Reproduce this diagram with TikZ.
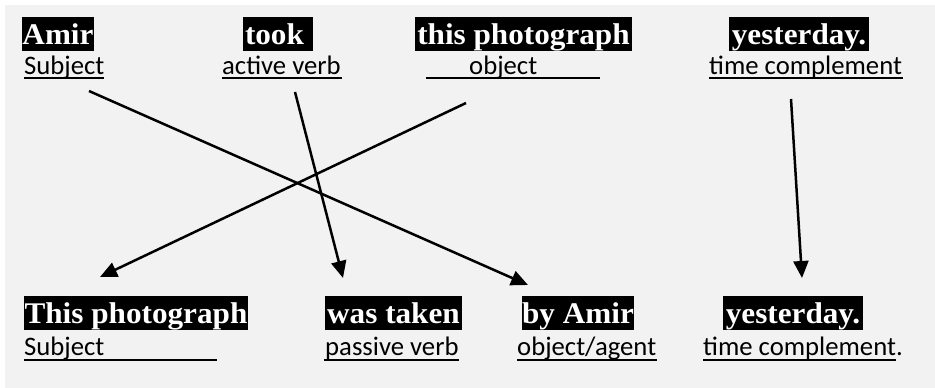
\documentclass[tikz,border=0pt]{standalone}
\usepackage{fontspec}
\setmainfont{Liberation Serif}
\newfontfamily\hlfont{Liberation Serif}[FakeStretch=1.04]
\newfontfamily\lblfont{Carlito}
\usetikzlibrary{arrows.meta}
\definecolor{bggray}{HTML}{F2F2F2}
\tikzset{
  hl/.style={fill=black, text=white, inner xsep=0pt, inner ysep=0pt,
    text height=27.5pt, text depth=6.5pt, anchor=base,
    font=\hlfont\fontsize{30}{36}\selectfont\bfseries},
  lbl/.style={inner sep=0pt, anchor=base west, font=\lblfont\fontsize{26.7}{32}\selectfont},
  uline/.style={line width=2pt},
  arr/.style={line width=2.5pt, -{Triangle[length=17pt,width=15pt]}}
}
\begin{document}
\begin{tikzpicture}[x=1pt,y=-1pt]
\useasboundingbox (0,0) rectangle (935,388);
\fill[bggray] (5,5) rectangle (935,388);
% top row highlights
\node[hl, minimum width=68pt] (amir) at (58,44) {Amir};
\node[hl, minimum width=70pt, text width=70pt, align=left] (took) at (278,44) {\hspace{2pt}took};
\node[hl, minimum width=217pt] (thisph) at (523.5,44) {this photograph};
\node[hl, minimum width=140pt] (yest1) at (799,44) {yesterday.};
% top row labels
\node[lbl] (l1) at (24,74) {Subject};
\node[lbl] (l2) at (222,74) {active verb};
\node[lbl] (l3) at (469,74) {object};
\node[lbl] (l4) at (709,74) {time complement};
\draw[uline] (24,78) -- (104,78);
\draw[uline] (222,78) -- (342,78);
\draw[uline] (426,78) -- (600,78);
\draw[uline] (709,78) -- (903,78);
% bottom row highlights
\node[hl, minimum width=224pt] (thisph2) at (136,323) {This photograph};
\node[hl, minimum width=137pt] (wastaken) at (393.5,323) {was taken};
\node[hl, minimum width=108pt] (byamir) at (578,323) {by Amir};
\node[hl, minimum width=140pt] (yest2) at (793,323) {yesterday.};
% bottom row labels
\node[lbl] (m1) at (24,355) {Subject};
\node[lbl] (m2) at (325,355) {passive verb};
\node[lbl] (m3) at (517,355) {object/agent};
\node[lbl] (m4) at (703,355) {time complement.};
\draw[uline] (24,360) -- (217,360);
\draw[uline] (324,360) -- (459,360);
\draw[uline] (517,360) -- (657,360);
\draw[uline] (703,360) -- (896,360);
% arrow ends
\coordinate (s1) at (89,91);   \coordinate (e1) at (528,285);
\coordinate (s2) at (295,92);  \coordinate (e2) at (343,278);
\coordinate (s3) at (466,103); \coordinate (e3) at (100,277);
\coordinate (s4) at (791,99);  \coordinate (e4) at (802,278);
\draw[arr] (s1) -- (e1);
\draw[arr] (s2) -- (e2);
\draw[arr] (s3) -- (e3);
\draw[arr] (s4) -- (e4);
\end{tikzpicture}
\end{document}
